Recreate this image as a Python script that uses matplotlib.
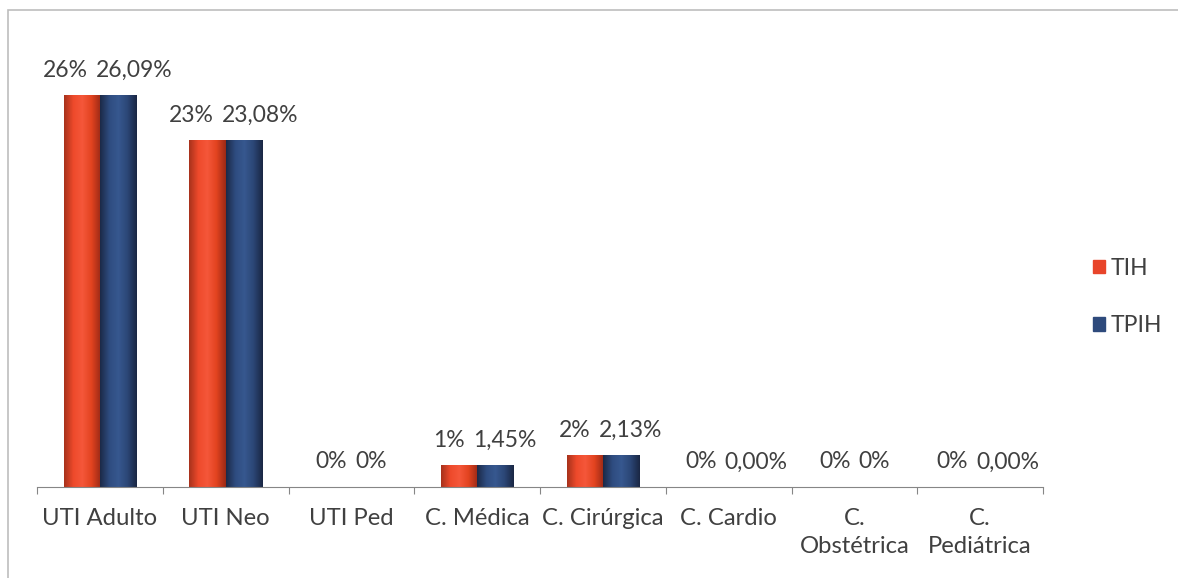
import matplotlib
matplotlib.use("Agg")
import matplotlib.pyplot as plt
import numpy as np
from matplotlib.patches import Rectangle, Patch
from matplotlib.colors import LinearSegmentedColormap

categories = ["UTI Adulto", "UTI Neo", "UTI Ped", "C. Médica", "C. Cirúrgica",
              "C. Cardio", "C.\nObstétrica", "C.\nPediátrica"]
tih = [26.09, 23.08, 0.0, 1.45, 2.13, 0.0, 0.0, 0.0]
tpih = [26.09, 23.08, 0.0, 1.45, 2.13, 0.0, 0.0, 0.0]
tih_labels = ["26%", "23%", "0%", "1%", "2%", "0%", "0%", "0%"]
tpih_labels = ["26,09%", "23,08%", "0%", "1,45%", "2,13%", "0,00%", "0%", "0,00%"]
series_names = ["TIH", "TPIH"]

plt.rcParams['font.family'] = ['Lato', 'DejaVu Sans']
TXT = "#404040"
FS = 16.5
FS_CAT = 17.2

fig = plt.figure(figsize=(11.78, 5.78), dpi=100)
fig.patches.append(Rectangle((8/1178, -0.01), 1.1, 1 - 10/578 + 0.01, transform=fig.transFigure,
                             fill=False, edgecolor="#bdbdbd", linewidth=1.2))
ax = fig.add_axes([37/1178, 91/578, 1006/1178, 450/578])

x = np.arange(len(categories))
w = 0.288
red_cmap = LinearSegmentedColormap.from_list("r", ["#a8321c", "#ee4a2b", "#f5573a", "#e2431f", "#9c2a16"])
blue_cmap = LinearSegmentedColormap.from_list("b", ["#1c2a48", "#2e4c80", "#37588f", "#2b4676", "#1a2744"])
b1 = ax.bar(x - w/2, tih, w, color="#e8452a", label=series_names[0])
b2 = ax.bar(x + w/2, tpih, w, color="#2e4a7c", label=series_names[1])
grad = np.linspace(0, 1, 64).reshape(1, -1)
for bars, cm in ((b1, red_cmap), (b2, blue_cmap)):
    for p in bars:
        h = p.get_height()
        if h > 0:
            ax.imshow(grad, cmap=cm, aspect='auto', zorder=2,
                      extent=[p.get_x(), p.get_x() + p.get_width(), 0, h])
            p.set_visible(False)

ax.set_xlim(-0.5, len(categories) - 0.5)
ax.set_ylim(0, 30)

pairs = []
for i in range(len(categories)):
    t1 = ax.annotate(tih_labels[i], (x[i] - w/2, tih[i]), xytext=(0, 18), textcoords="offset points",
                     ha="center", va="center", fontsize=FS, color=TXT)
    t2 = ax.annotate(tpih_labels[i], (x[i] + w/2, tpih[i]), xytext=(0, 18), textcoords="offset points",
                     ha="center", va="center", fontsize=FS, color=TXT)
    pairs.append((t1, t2))

ax.set_xticks(np.arange(-0.5, len(categories)), labels=[])
ax.set_xticks(x, labels=categories, minor=True)
ax.tick_params(axis="x", which="major", length=5, color="#868686", direction="out")
ax.tick_params(axis="x", which="minor", length=0, pad=15, labelsize=FS_CAT, labelcolor=TXT)
for lab in ax.get_xticklabels(minor=True):
    lab.set_linespacing(1.45)
ax.set_yticks([])
for s in ("top", "right", "left"):
    ax.spines[s].set_visible(False)
ax.spines["bottom"].set_color("#868686")
ax.set_facecolor("none")

# separate overlapping value labels (like Excel does)
fig.canvas.draw()
r = fig.canvas.get_renderer()
for t1, t2 in pairs:
    e1 = t1.get_window_extent(r)
    e2 = t2.get_window_extent(r)
    gap = 8
    ov = e1.x1 - e2.x0 + gap
    if ov > 0:
        shift_pt = ov / 2 * 72 / fig.dpi
        t1.xyann = (-shift_pt, 18)
        t2.xyann = (shift_pt, 18)

handles = [Patch(color="#e8452a"), Patch(color="#2e4a7c")]
fig.legend(handles, series_names, loc="center left", bbox_to_anchor=(1072/1178, 1 - 297/578),
           frameon=False, fontsize=FS, handlelength=0.55, handleheight=0.55, handletextpad=0.25,
           labelspacing=1.6, labelcolor=TXT)

fig.savefig("out.png", dpi=100)
